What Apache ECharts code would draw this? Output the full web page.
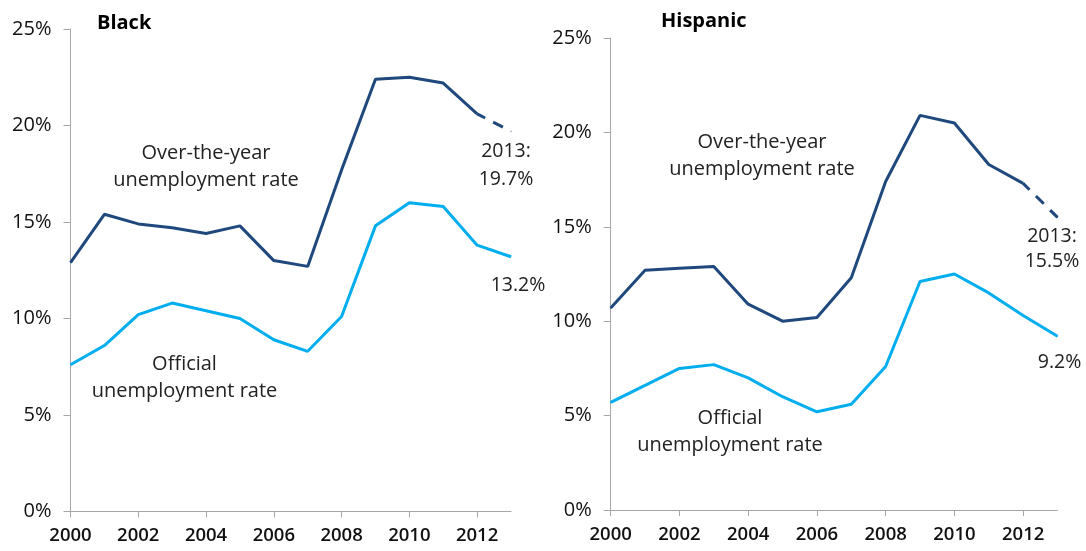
<!DOCTYPE html>
<html>
<head>
<meta charset="utf-8">
<script src="https://cdn.jsdelivr.net/npm/echarts@6/dist/echarts.min.js"></script>
<style>
  html, body { margin: 0; padding: 0; background: #ffffff; }
  #chart { width: 1086px; height: 551px; }
</style>
</head>
<body>
<div id="chart"></div>
<script>
// Unemployment rates, 2000-2013 (percent)
const years = ['2000','2001','2002','2003','2004','2005','2006','2007','2008','2009','2010','2011','2012','2013'];
const yTicks = [0, 5, 10, 15, 20, 25];

const blackOverYear = [12.9, 15.4, 14.9, 14.7, 14.4, 14.8, 13.0, 12.7, 17.7, 22.4, 22.5, 22.2, 20.6, 19.7];
const blackOfficial = [7.6, 8.6, 10.2, 10.8, 10.4, 10.0, 8.9, 8.3, 10.1, 14.8, 16.0, 15.8, 13.8, 13.2];
const hispOverYear  = [10.7, 12.7, 12.8, 12.9, 10.9, 10.0, 10.2, 12.3, 17.4, 20.9, 20.5, 18.3, 17.3, 15.5];
const hispOfficial  = [5.7, 6.6, 7.5, 7.7, 7.0, 6.0, 5.2, 5.6, 7.6, 12.1, 12.5, 11.5, 10.3, 9.2];

const NAVY = '#1f497d';
const SKY = '#00aeef';
const FONT = '"Open Sans", "Noto Sans", sans-serif';
const TEXT = '#222222';
const last = years.length - 1;

// solid part: every year up to 2012
function solidPart(arr) {
  return arr.map((v, i) => (i < last ? v : null));
}
// preliminary 2013 part: dashed segment 2012 -> 2013, labelled with the 2013 value
function dashedPart(arr, labelOpts) {
  return arr.map((v, i) => {
    if (i < last - 1) return null;
    if (i === last) {
      return { value: v, label: Object.assign({ show: true, formatter: p => '2013:\n' + p.value + '%' }, labelOpts) };
    }
    return v;
  });
}
function officialPart(arr, labelOpts) {
  return arr.map((v, i) => (i === last
    ? { value: v, label: Object.assign({ show: true, formatter: p => p.value + '%' }, labelOpts) }
    : v));
}

const chart = echarts.init(document.getElementById('chart'), null, { renderer: 'canvas' });

const grids = [
  { left: 70.5, top: 29, width: 440.5, height: 482.5 },
  { left: 610.7, top: 38, width: 446.8, height: 472 }
];

function xAxis(gi) {
  return {
    type: 'category', gridIndex: gi, data: years, boundaryGap: false,
    axisLine: { lineStyle: { color: '#a6a6a6', width: 1 } },
    axisTick: { show: true, interval: 1, length: 6, lineStyle: { color: '#a6a6a6' } },
    axisLabel: { interval: 1, margin: 15, color: '#111', fontFamily: FONT, fontSize: 18.5, fontWeight: 600 },
    splitLine: { show: false }
  };
}
function yAxis(gi) {
  return {
    type: 'value', gridIndex: gi, min: yTicks[0], max: yTicks[yTicks.length - 1], interval: 5,
    axisLine: { show: true, lineStyle: { color: '#a6a6a6', width: 1 } },
    axisTick: { show: true, length: 7, lineStyle: { color: '#a6a6a6' } },
    axisLabel: { margin: 19, color: '#111', fontFamily: FONT, fontSize: 20, formatter: '{value}%' },
    splitLine: { show: false }
  };
}

// end-of-line value labels: position is [dx, dy] from the end point, text hangs below
function endLabel(dx, dy, lineHeight) {
  return {
    color: TEXT, fontFamily: FONT, fontSize: 19.5, lineHeight: lineHeight,
    position: [dx, dy], align: 'center', verticalAlign: 'top'
  };
}

function lineSeries(gi, data, color, dashed) {
  return {
    type: 'line', xAxisIndex: gi, yAxisIndex: gi, data: data,
    showSymbol: true, showAllSymbol: true, symbol: 'circle', symbolSize: 1,
    connectNulls: false, animation: false, silent: true, clip: false,
    lineStyle: dashed
      ? { color: color, width: 3, type: [11, 9], dashOffset: 2 }
      : { color: color, width: 3 },
    itemStyle: { color: color },
    labelLayout: { hideOverlap: false }
  };
}

const option = {
  backgroundColor: '#ffffff',
  animation: false,
  grid: grids,
  xAxis: [xAxis(0), xAxis(1)],
  yAxis: [yAxis(0), yAxis(1)],
  series: [
    lineSeries(0, solidPart(blackOverYear), NAVY, false),
    lineSeries(0, dashedPart(blackOverYear, endLabel(-4.5, 6.5, 28)), NAVY, true),
    lineSeries(0, officialPart(blackOfficial, endLabel(7.5, 15.5, 28)), SKY, false),
    lineSeries(1, solidPart(hispOverYear), NAVY, false),
    lineSeries(1, dashedPart(hispOverYear, endLabel(-5, 7.5, 25)), NAVY, true),
    lineSeries(1, officialPart(hispOfficial, endLabel(2.5, 14.5, 25)), SKY, false)
  ],
  graphic: [
    { type: 'text', left: 97, top: 13, style: { text: 'Black', font: 'bold 20px ' + FONT, fill: '#000' } },
    { type: 'text', left: 661, top: 11, style: { text: 'Hispanic', font: 'bold 20px ' + FONT, fill: '#000' } },
    { type: 'text', x: 206, y: 167, style: { text: 'Over-the-year\nunemployment rate', font: '20px ' + FONT, fill: TEXT, align: 'center', verticalAlign: 'middle', lineHeight: 27 } },
    { type: 'text', x: 184.5, y: 378, style: { text: 'Official\nunemployment rate', font: '20px ' + FONT, fill: TEXT, align: 'center', verticalAlign: 'middle', lineHeight: 27 } },
    { type: 'text', x: 762, y: 156, style: { text: 'Over-the-year\nunemployment rate', font: '20px ' + FONT, fill: TEXT, align: 'center', verticalAlign: 'middle', lineHeight: 27 } },
    { type: 'text', x: 730, y: 432, style: { text: 'Official\nunemployment rate', font: '20px ' + FONT, fill: TEXT, align: 'center', verticalAlign: 'middle', lineHeight: 27 } }
  ]
};

chart.setOption(option);
</script>
</body>
</html>
